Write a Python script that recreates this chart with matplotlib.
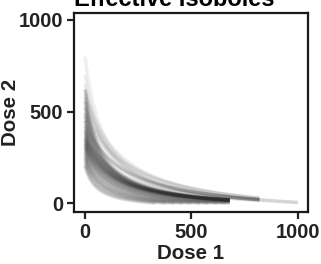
import numpy as np
import matplotlib
matplotlib.use("Agg")
import matplotlib.pyplot as plt

plt.rcParams['font.family'] = ['Liberation Sans', 'DejaVu Sans']
plt.rcParams['font.weight'] = 'bold'

# isobole curves:
# dose 2 at dose 1 = 0, dose 1 where dose 2 would reach 0, dose 1 where the curve has bent
dense_y0 = [200, 210, 225, 240, 250, 260, 270, 280, 290, 300, 305, 310, 320, 325, 330, 340,
            345, 350, 360, 370, 380, 390, 400, 415, 430, 450, 470, 490, 520, 550, 580, 620]
dense_x0 = [330, 380, 420, 460, 500, 540, 580, 620, 660, 700, 740, 780, 820, 860, 900, 950,
            950, 980, 940, 1000, 950, 990, 960, 1000, 940, 980, 950, 1000, 960, 990, 950, 1000]
dense_bend = [55, 60, 65, 70, 70, 75, 80, 85, 90, 95, 100, 100, 105, 110, 110, 110,
              115, 110, 120, 110, 110, 105, 110, 100, 105, 95, 95, 90, 85, 80, 78, 75]
dense_end = 680

mid_y0 = [360, 400, 420, 450, 480, 500, 530, 560, 600, 620]
mid_x0 = [1050, 1100, 1080, 1150, 1100, 1120, 1100, 1150, 1100, 1120]
mid_bend = [170, 150, 200, 160, 140, 200, 130, 170, 120, 160]
mid_end = 820

light_y0 = [650, 700, 800]
light_x0 = [1050, 1080, 1050]
light_bend = [110, 100, 92]
light_end = 1000

groups = [(dense_y0, dense_x0, dense_bend, dense_end, 0.16),
          (mid_y0, mid_x0, mid_bend, mid_end, 0.09),
          (light_y0, light_x0, light_bend, light_end, 0.07)]

fig = plt.figure(figsize=(3.21, 2.64), dpi=100)
ax = fig.add_axes([0.2305, 0.198, 0.729, 0.754])

for y0s, x0s, bends, end, alpha in groups:
    for b, a, d in zip(y0s, x0s, bends):
        d1 = np.linspace(0, min(a, end), 300)
        d2 = b * (1 - d1 / a) / (1 + d1 / d)
        ax.plot(d1, d2, color='#2a2a2a', alpha=alpha, lw=2.4, solid_capstyle='butt')

ax.set_xlim(-52, 1048)
ax.set_ylim(-47, 1040)
ax.set_xticks([0, 500, 1000])
ax.set_yticks([0, 500, 1000])
ax.tick_params(direction='out', length=5, width=1.6, color='#222222',
               labelsize=14.5, pad=3, labelcolor='#222222')
for s in ax.spines.values():
    s.set_linewidth(1.6)
    s.set_color('#1a1a1a')

ax.set_xlabel('Dose 1', fontsize=14.8, fontweight='bold', color='#222222')
ax.set_ylabel('Dose 2', fontsize=14.8, fontweight='bold', color='#222222')
ax.xaxis.set_label_coords(0.5, -0.163)
ax.yaxis.set_label_coords(-0.232, 0.5)
ax.set_title('Effective Isoboles', loc='left', fontsize=17, fontweight='bold', pad=4.5)

fig.savefig('out.png', dpi=100)
